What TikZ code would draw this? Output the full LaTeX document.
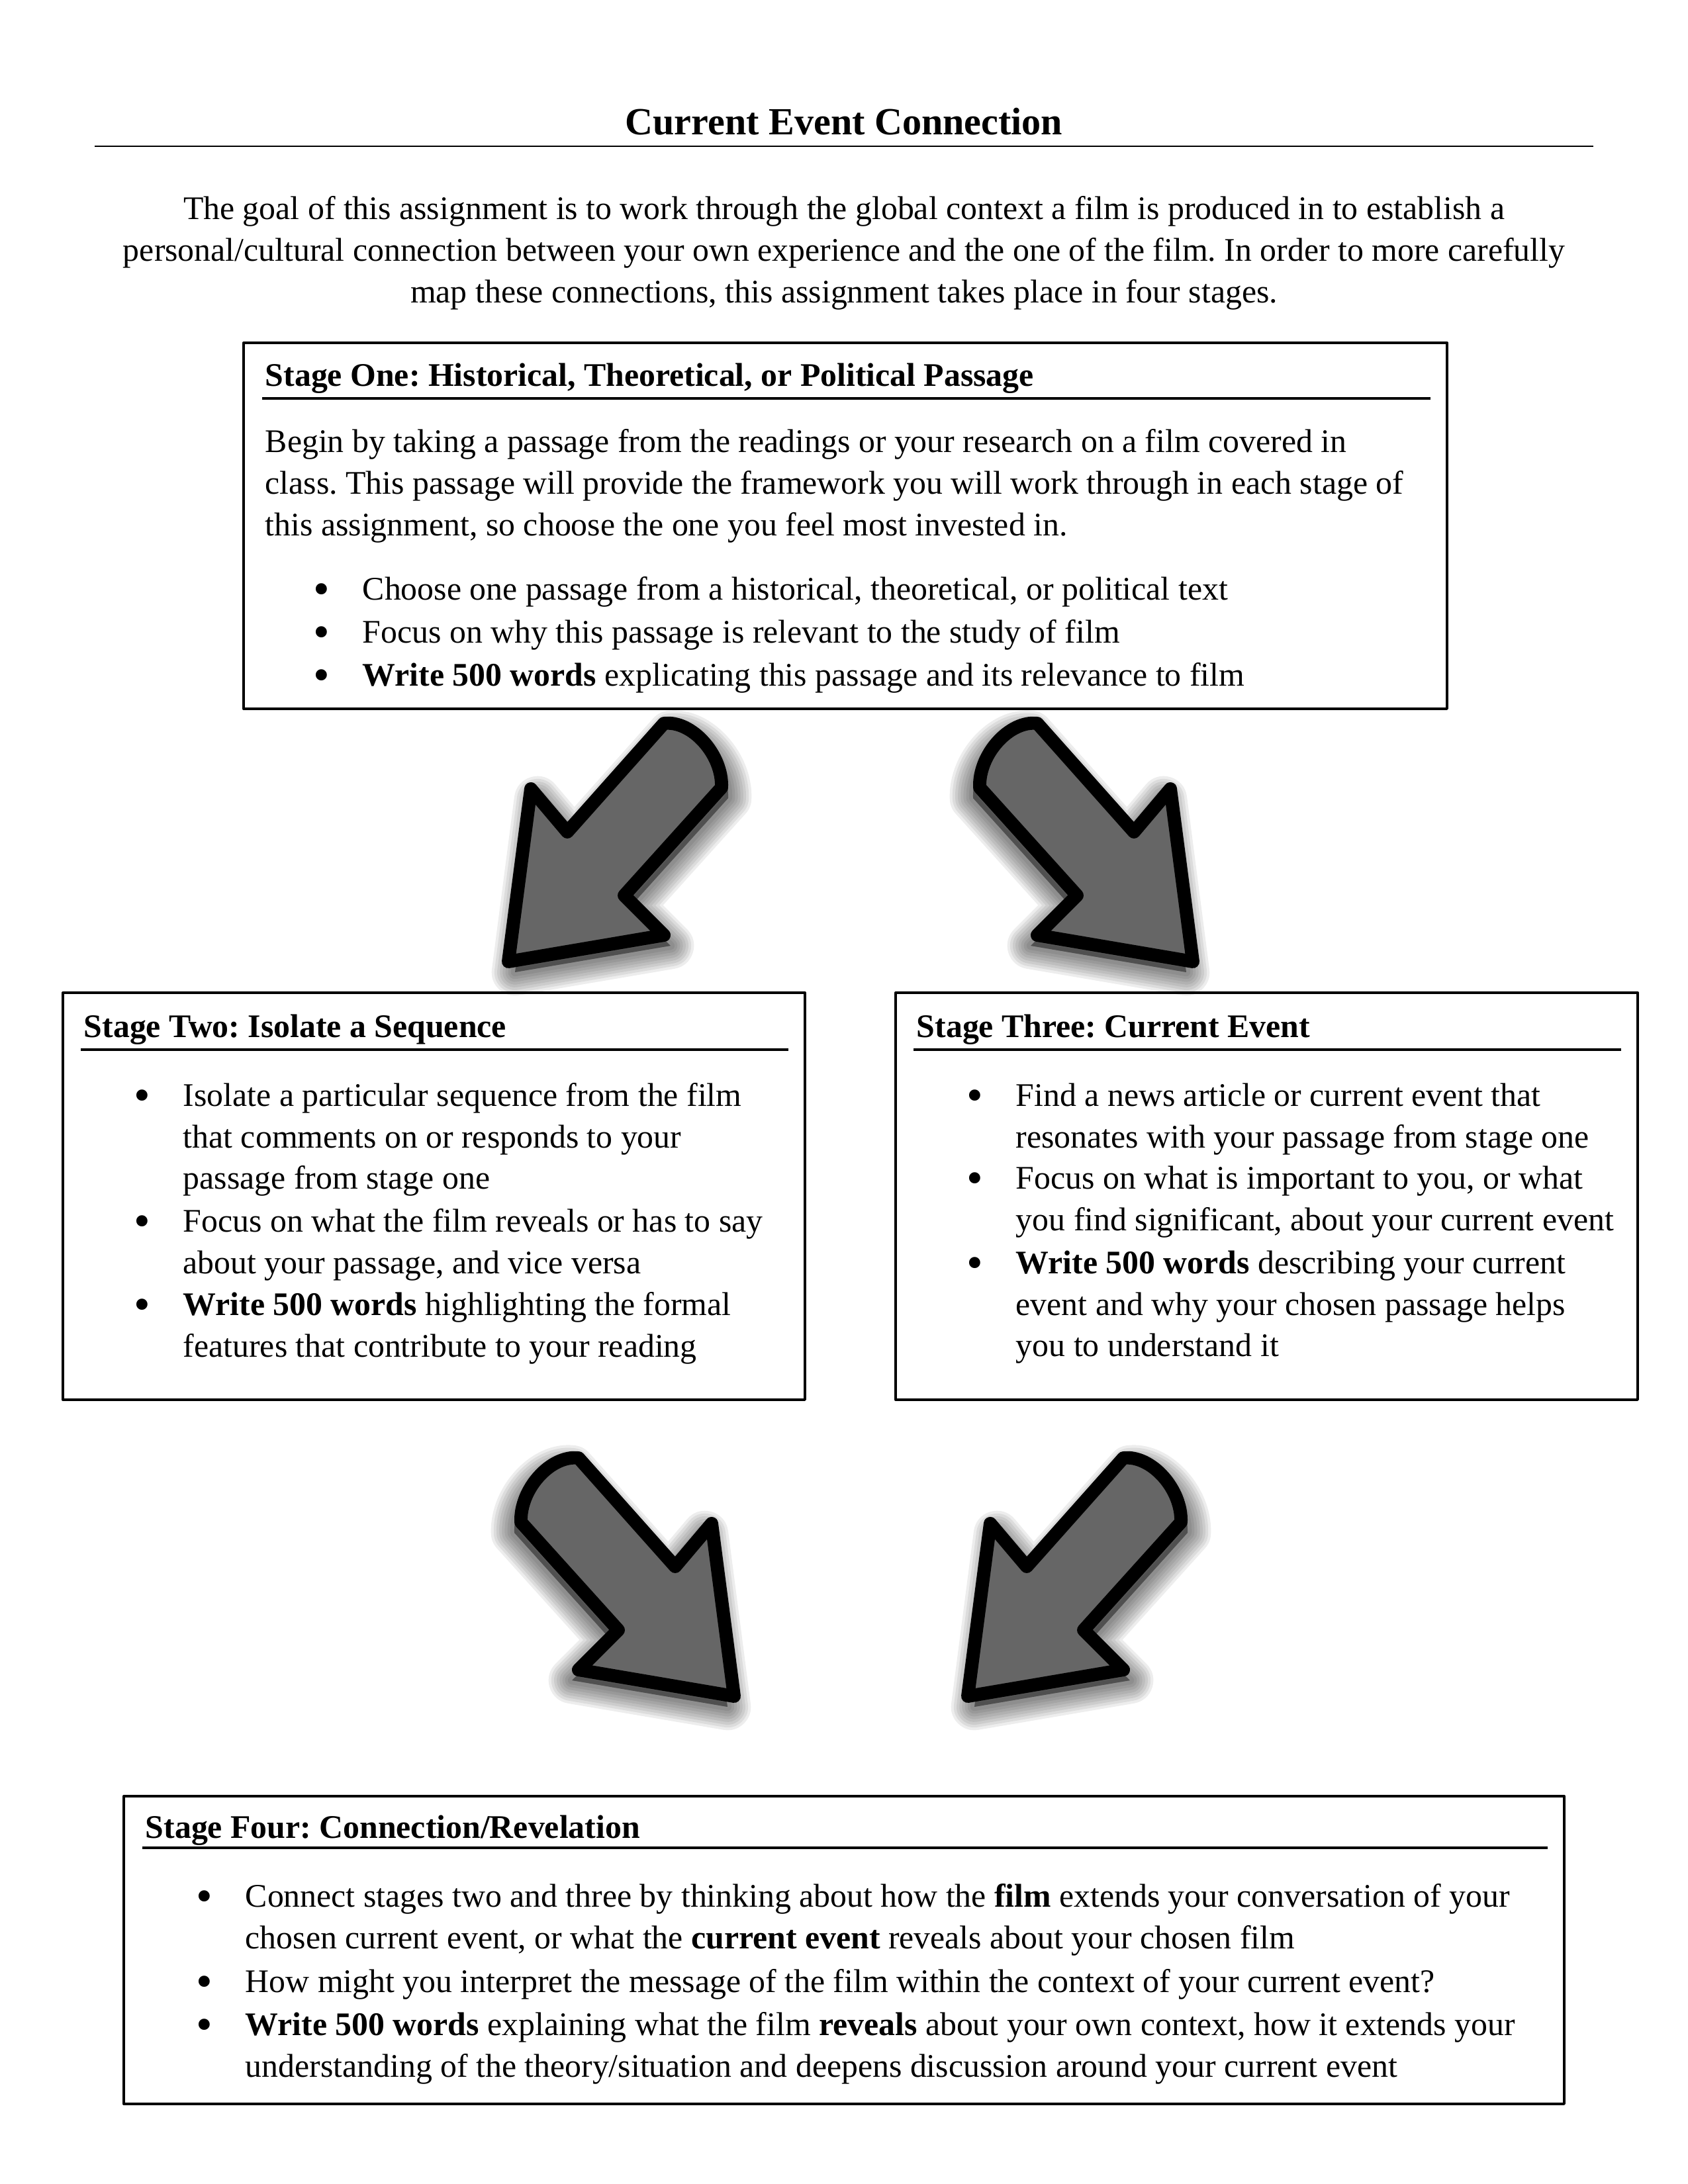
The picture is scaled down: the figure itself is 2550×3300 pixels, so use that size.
\documentclass[tikz,border=0pt]{standalone}
\usepackage{fontspec}
\setmainfont{Liberation Serif}
\frenchspacing
\definecolor{arrowgray}{HTML}{666666}
\newcommand\bodyfont{\fontsize{12pt}{15.1pt}\selectfont}
\newcommand\titlefont{\fontsize{14pt}{17pt}\selectfont\bfseries}
% block arrow pointing down-left, in page pixels
\newcommand\arrowpath{(1003,1093) .. controls (1045,1088) and (1092,1140) .. (1090,1190)
  -- (943,1353) -- (1003,1413) -- (768,1453) -- (802,1192) -- (857,1257) -- cycle}

\begin{document}
\begin{tikzpicture}[x=0.008467cm,y=-0.008467cm,line join=round,
  frame/.style={line width=.8pt},
  rule/.style={line width=1pt},
  hd/.style={anchor=base west,inner sep=0pt,yshift=-1pt,font=\bodyfont\bfseries},
  txt/.style={anchor=base west,inner sep=0pt,yshift=-1pt,align=left,font=\bodyfont},
  dot/.style={anchor=base,inner sep=0pt,yshift=-2.8pt,font=\fontsize{17pt}{15pt}\selectfont}]
  \useasboundingbox (0,0) rectangle (2550,3300);

  % Title and introduction (multi-line nodes sit on their last baseline)
  \node[font=\titlefont,anchor=base,inner sep=0pt] (title) at (1275,203) {Current Event Connection};
  \draw[line width=.6pt] (143,221) -- (2407,221);
  \node[txt,align=center,anchor=base] (intro) at (1275,453)
    {The goal of this assignment is to work through the global context a film is produced in to establish a\\
     personal/cultural connection between your own experience and the one of the film. In order to more carefully\\
     map these connections, this assignment takes place in four stages.};

  % Stage One
  \draw[frame] (368,518) rectangle (2186,1071);
  \node[hd] (h1) at (400,579) {Stage One: Historical, Theoretical, or Political Passage};
  \draw[rule] (396,602) -- (2161,602);
  \node[txt] (p1) at (400,805)
    {Begin by taking a passage from the readings or your research on a film covered in\\
     class. This passage will provide the framework you will work through in each stage of\\
     this assignment, so choose the one you feel most invested in.};
  \foreach \y/\t [count=\i] in {902/{Choose one passage from a historical, theoretical, or political text},
      967/{Focus on why this passage is relevant to the study of film},
      1032/{\textbf{Write 500 words} explicating this passage and its relevance to film}}{
    \node[dot] (d1\i) at (486,\y) {•};
    \node[txt] (t1\i) at (547,\y) {\t};
  }

  % Stage Two
  \draw[frame] (95,1500) rectangle (1216,2115);
  \node[hd] (h2) at (126,1563) {Stage Two: Isolate a Sequence};
  \draw[rule] (122,1586) -- (1191,1586);
  \foreach \y/\n/\t [count=\i] in {1667/3/{Isolate a particular sequence from the film\\that comments on or responds to your\\passage from stage one},
      1857/2/{Focus on what the film reveals or has to say\\about your passage, and vice versa},
      1983/2/{\textbf{Write 500 words} highlighting the formal\\features that contribute to your reading}}{
    \node[dot] (d2\i) at (215,\y) {•};
    \node[txt] (t2\i) at (276,{\y+62.9*(\n-1)}) {\t};
  }

  % Stage Three
  \draw[frame] (1353,1500) rectangle (2474,2115);
  \node[hd] (h3) at (1384,1563) {Stage Three: Current Event};
  \draw[rule] (1380,1586) -- (2449,1586);
  \foreach \y/\n/\t [count=\i] in {1667/2/{Find a news article or current event that\\resonates with your passage from stage one},
      1792/2/{Focus on what is important to you, or what\\you find significant, about your current event},
      1920/3/{\textbf{Write 500 words} describing your current\\event and why your chosen passage helps\\you to understand it}}{
    \node[dot] (d3\i) at (1473,\y) {•};
    \node[txt] (t3\i) at (1534,{\y+62.9*(\n-1)}) {\t};
  }

  % Stage Four
  \draw[frame] (187,2714) rectangle (2363,3179);
  \node[hd] (h4) at (219,2773) {Stage Four: Connection/Revelation};
  \draw[rule] (215,2792) -- (2338,2792);
  \foreach \y/\n/\t [count=\i] in {2877/2/{Connect stages two and three by thinking about how the \textbf{film} extends your conversation of your\\chosen current event, or what the \textbf{current event} reveals about your chosen film},
      3006/1/{How might you interpret the message of the film within the context of your current event?},
      3071/2/{\textbf{Write 500 words} explaining what the film \textbf{reveals} about your own context, how it extends your\\understanding of the theory/situation and deepens discussion around your current event}}{
    \node[dot] (d4\i) at (309,\y) {•};
    \node[txt] (t4\i) at (370,{\y+62.9*(\n-1)}) {\t};
  }

  % Block arrows between the stages, each with a soft drop shadow
  \foreach \sx/\dx/\dy in {1/0/0, -1/2570/0, -1/1877/1110, 1/694/1110}{
    \begin{scope}[shift={(\dx,\dy)},xscale=\sx]
      \foreach \w in {17,15,...,3}
        \draw[black,opacity=.07,line width=\w pt,fill,shift={(10,16)}] \arrowpath;
      \draw[line width=4.8pt,fill=arrowgray] \arrowpath;
    \end{scope}
  }
\end{tikzpicture}
\end{document}
